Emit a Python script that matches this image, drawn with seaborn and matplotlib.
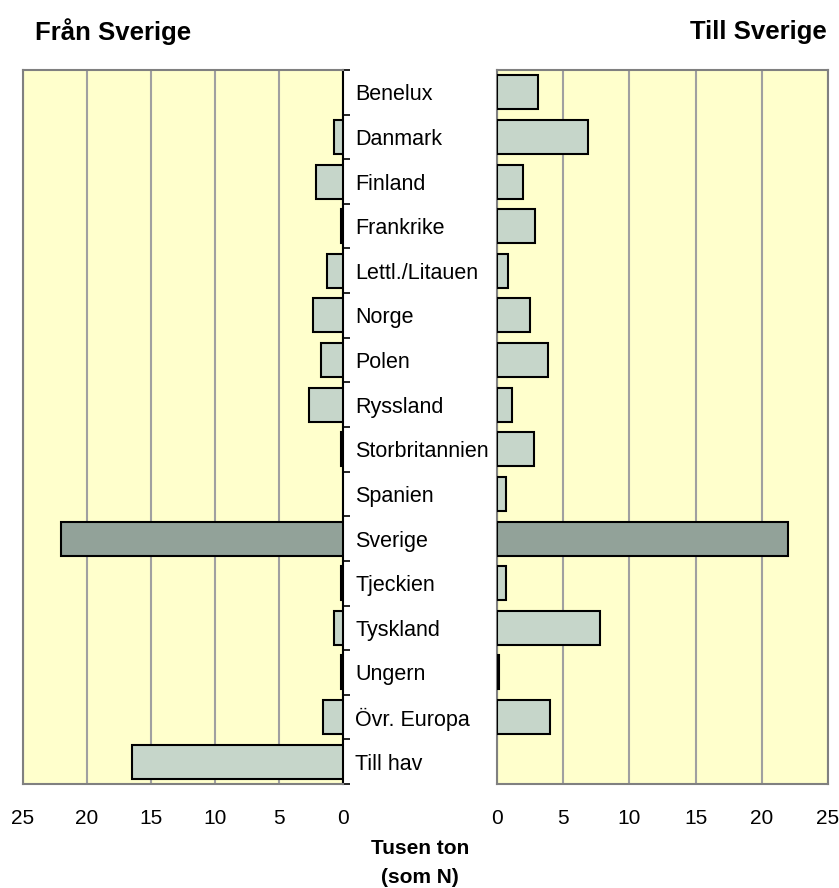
import matplotlib
matplotlib.use("Agg")
import matplotlib.pyplot as plt
import seaborn as sns
import pandas as pd

# categories, top to bottom
categories = ["Benelux", "Danmark", "Finland", "Frankrike", "Lettl./Litauen",
              "Norge", "Polen", "Ryssland", "Storbritannien", "Spanien",
              "Sverige", "Tjeckien", "Tyskland", "Ungern", "Övr. Europa", "Till hav"]
# tusen ton (som N)
fran_sverige = [0.0, 0.68, 2.1, 0.15, 1.28, 2.35, 1.72, 2.66, 0.12, 0.0,
                22.0, 0.15, 0.68, 0.12, 1.57, 16.5]
till_sverige = [3.1, 6.85, 2.0, 2.9, 0.8, 2.47, 3.83, 1.1, 2.77, 0.65,
                22.0, 0.65, 7.75, 0.15, 3.98, 0.0]
xticks = [0, 5, 10, 15, 20, 25]

sns.set_style("white")
plt.rcParams["font.family"] = ["Liberation Sans", "DejaVu Sans"]
plt.rcParams["text.color"] = "black"
plt.rcParams["xtick.color"] = "black"
plt.rcParams["ytick.color"] = "black"

bg = "#FFFFCC"
light = "#C3D9C9"
dark = "#8FA598"
palette = {c: (dark if c == "Sverige" else light) for c in categories}

df = pd.DataFrame({"land": categories, "fran": fran_sverige, "till": till_sverige})

fig = plt.figure(figsize=(8.39, 8.88), dpi=100)
ax_l = fig.add_axes([23 / 839, 1 - 784 / 888, 320 / 839, 714 / 888])
ax_r = fig.add_axes([497 / 839, 1 - 784 / 888, 331 / 839, 714 / 888])

for ax, col in [(ax_l, "fran"), (ax_r, "till")]:
    sns.barplot(data=df, x=col, y="land", hue="land", palette=palette,
                order=categories, orient="h", width=0.76, legend=False,
                edgecolor="black", linewidth=1.5, ax=ax, zorder=3)
    # empty bars get no outline
    for p in ax.patches:
        if p.get_width() == 0:
            p.set_linewidth(0)
    ax.set_facecolor(bg)
    ax.set_xlim(0, 25)
    ax.set_ylim(len(categories) - 0.5, -0.5)
    ax.set_xticks(xticks)
    ax.set_xticklabels([str(t) for t in xticks], fontsize=15)
    ax.tick_params(axis="x", length=0, pad=18)
    ax.grid(axis="x", color="#A0A0A0", linewidth=1.5, zorder=0)
    ax.set_axisbelow(True)
    ax.set_xlabel("")
    ax.set_ylabel("")
    for s in ax.spines.values():
        s.set_color("#808080")
        s.set_linewidth(1.5)

# left panel runs from 25 down to 0
ax_l.invert_xaxis()
ax_l.spines["right"].set_color("black")
ax_l.yaxis.tick_right()
ax_l.set_yticks([i - 0.5 for i in range(len(categories) + 1)])
ax_l.set_yticklabels([])
ax_l.set_yticks(range(len(categories)), minor=True)
ax_l.set_yticklabels(categories, minor=True, fontsize=15.5)
ax_l.tick_params(axis="y", which="major", direction="out", length=5, width=1.2, color="black")
ax_l.tick_params(axis="y", which="minor", length=0, pad=9)

ax_r.set_yticks([])

fig.text(35 / 839, 1 - 32 / 888, "Från Sverige", fontweight="bold",
         fontsize=18.5, ha="left", va="center")
fig.text(827 / 839, 1 - 32 / 888, "Till Sverige", fontweight="bold",
         fontsize=18.5, ha="right", va="center")
fig.text(420 / 839, 1 - 848 / 888, "Tusen ton", fontweight="bold",
         fontsize=15, ha="center", va="center")
fig.text(420 / 839, 1 - 877 / 888, "(som N)", fontweight="bold",
         fontsize=15, ha="center", va="center")

fig.savefig("out.png", dpi=100, facecolor="white")
